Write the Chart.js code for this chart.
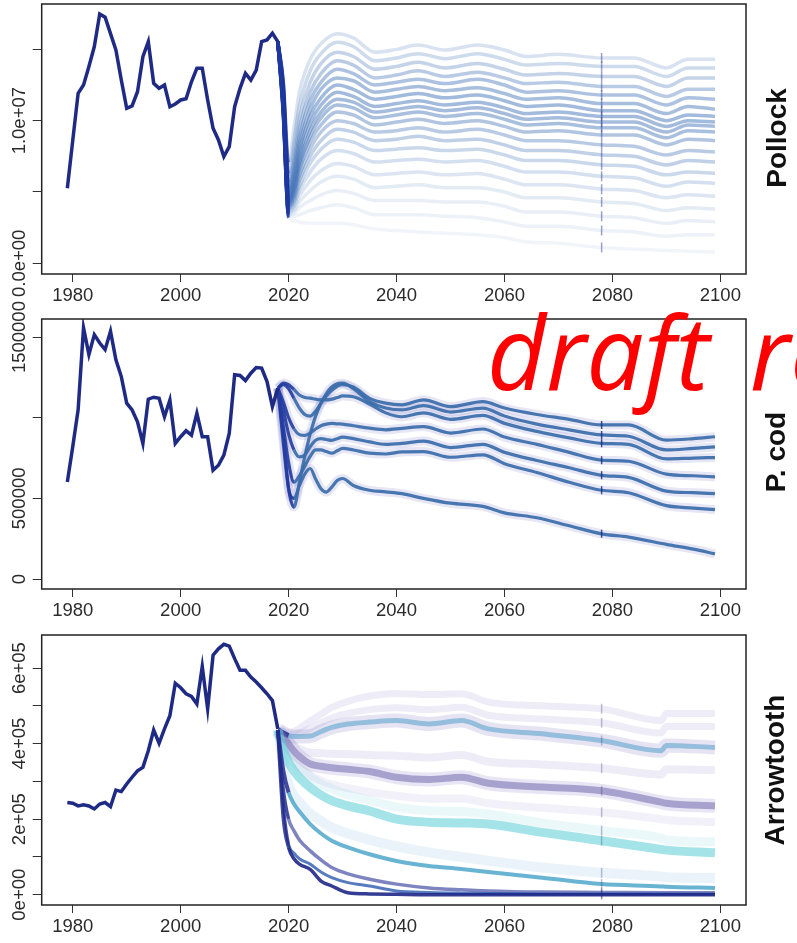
<!DOCTYPE html>
<html>
<head>
<meta charset="utf-8">
<script src="https://cdn.jsdelivr.net/npm/chart.js@4.4.1/dist/chart.umd.min.js"></script>
<style>
  html, body { margin: 0; padding: 0; background: #fff; }
  body { width: 797px; height: 943px; position: relative; overflow: hidden; }
  canvas { position: absolute; left: 0; display: block; }
  .side { position: absolute; font: bold 28px "Liberation Sans", Arial, sans-serif; color: #111;
          transform: translate(-50%, -50%) rotate(-90deg); white-space: nowrap; }
  .stamp { position: absolute; left: 487px; top: 300px; font: italic 102px "Open Sans", sans-serif;
           word-spacing: 14px; color: #ff0000; white-space: nowrap; line-height: 1; }
</style>
</head>
<body>
<canvas id="pollock" width="797" height="340" style="top:-26px"></canvas>
<canvas id="pcod" width="797" height="340" style="top:289px"></canvas>
<canvas id="arrow" width="797" height="340" style="top:605px"></canvas>
<div class="side" style="left:777px; top:138px">Pollock</div>
<div class="side" style="left:776px; top:452px">P. cod</div>
<div class="side" style="left:775px; top:770px">Arrowtooth</div>
<div class="stamp">draft report</div>
<script>
// assessment years
const histYears = [1979, 1980, 1981, 1982, 1983, 1984, 1985, 1986, 1987, 1988,
  1989, 1990, 1991, 1992, 1993, 1994, 1995, 1996, 1997, 1998,
  1999, 2000, 2001, 2002, 2003, 2004, 2005, 2006, 2007, 2008,
  2009, 2010, 2011, 2012, 2013, 2014, 2015, 2016, 2017, 2018];

// pollock biomass, million t
const pollockHist = [5.26, 8.6, 11.92, 12.5, 13.8, 15.2, 17.48, 17.25, 16.1, 14.96,
  12.85, 10.87, 11.03, 12.03, 14.49, 15.54, 12.62, 12.27, 12.5, 10.98,
  11.17, 11.45, 11.54, 12.73, 13.67, 13.67, 11.45, 9.47, 8.65, 7.48,
  8.18, 10.98, 12.27, 13.32, 12.85, 13.55, 15.54, 15.66, 16.13, 15.54];

// P. cod biomass, thousand t
const pcodHist = [601, 820, 1049, 1557, 1391, 1515, 1463, 1422, 1536, 1359,
  1255, 1090, 1048, 975, 841, 1115, 1127, 1121, 1006, 1110,
  841, 882, 919, 892, 1027, 882, 882, 674, 705, 768,
  903, 1266, 1262, 1230, 1276, 1311, 1308, 1224, 1069, 1183];

// arrowtooth biomass, thousand t
const arrowHist = [244, 242, 235, 238, 235, 227, 240, 244, 233, 277,
  273, 293, 311, 328, 337, 381, 436, 401, 439, 474,
  560, 548, 532, 525, 505, 604, 492, 634, 651, 663,
  658, 625, 594, 594, 576, 563, 548, 532, 514, 439];

// projection runs
const pollockKnots = [2018, 2019, 2020, 2021, 2022, 2024, 2026, 2029, 2032, 2036, 2040,
  2044, 2049, 2055, 2060, 2064, 2070, 2078, 2084, 2090, 2094, 2099];
const pollockRuns = [
  [15.54, 12.8, 7.0, 9.5, 12.0, 14.3, 15.4, 16.1, 15.8, 14.8, 15.0, 15.3, 14.95, 15.3, 14.95, 14.5, 14.65, 14.4, 14.4, 13.7, 14.3, 14.3],
  [15.54, 12.6, 6.2, 8.6, 11.0, 13.5, 14.7, 15.5, 15.2, 14.2, 14.4, 14.7, 14.35, 14.7, 14.3, 13.9, 14.0, 13.8, 13.8, 13.1, 13.7, 13.7],
  [15.54, 12.4, 5.6, 7.8, 10.2, 12.7, 14.0, 14.8, 14.5, 13.6, 13.8, 14.1, 13.7, 14.0, 13.6, 13.2, 13.3, 13.1, 13.1, 12.4, 13.0, 13.0],
  [15.54, 12.2, 5.2, 7.2, 9.5, 12.0, 13.3, 14.2, 13.9, 13.0, 13.2, 13.5, 13.1, 13.4, 13.0, 12.6, 12.7, 12.4, 12.4, 11.7, 12.2, 12.2],
  [15.54, 12.0, 4.9, 6.7, 8.9, 11.4, 12.7, 13.6, 13.3, 12.5, 12.7, 12.9, 12.6, 12.9, 12.5, 12.0, 12.1, 11.8, 11.8, 11.1, 11.6, 11.5],
  [15.54, 11.9, 4.7, 6.3, 8.4, 10.8, 12.2, 13.0, 12.8, 12.0, 12.2, 12.4, 12.1, 12.3, 11.9, 11.5, 11.6, 11.2, 11.2, 10.5, 11.0, 10.8],
  [15.54, 11.8, 4.5, 5.9, 7.9, 10.3, 11.6, 12.5, 12.2, 11.5, 11.7, 11.9, 11.6, 11.8, 11.4, 11.0, 11.1, 10.7, 10.7, 10.0, 10.4, 10.3],
  [15.54, 11.7, 4.4, 5.6, 7.5, 9.8, 11.1, 12.0, 11.7, 11.0, 11.2, 11.4, 11.1, 11.3, 10.9, 10.5, 10.6, 10.3, 10.3, 9.6, 10.0, 9.9],
  [15.54, 11.6, 4.3, 5.3, 7.1, 9.3, 10.6, 11.5, 11.3, 10.6, 10.8, 11.0, 10.7, 10.9, 10.5, 10.1, 10.2, 9.9, 9.9, 9.2, 9.7, 9.6],
  [15.54, 11.5, 4.2, 5.1, 6.8, 8.9, 10.2, 11.1, 10.9, 10.2, 10.4, 10.6, 10.3, 10.5, 10.1, 9.7, 9.8, 9.5, 9.5, 8.8, 9.3, 9.2],
  [15.54, 11.4, 4.1, 4.9, 6.5, 8.5, 9.7, 10.6, 10.4, 9.7, 9.9, 10.1, 9.8, 10.0, 9.6, 9.2, 9.3, 9.0, 9.0, 8.3, 8.7, 8.6],
  [15.54, 11.3, 4.0, 4.7, 6.1, 8.0, 9.2, 10.0, 9.8, 9.2, 9.3, 9.5, 9.2, 9.4, 9.0, 8.6, 8.6, 8.3, 8.2, 7.6, 7.9, 7.8],
  [15.54, 11.2, 3.9, 4.5, 5.8, 7.5, 8.6, 9.4, 9.2, 8.6, 8.7, 8.9, 8.6, 8.7, 8.3, 7.9, 7.9, 7.6, 7.5, 6.9, 7.2, 7.1],
  [15.54, 11.1, 3.8, 4.3, 5.4, 7.0, 8.0, 8.7, 8.5, 7.9, 8.0, 8.1, 7.9, 8.0, 7.6, 7.2, 7.2, 6.9, 6.8, 6.2, 6.4, 6.3],
  [15.54, 11.0, 3.7, 4.1, 5.1, 6.4, 7.3, 7.9, 7.7, 7.1, 7.2, 7.3, 7.1, 7.2, 6.8, 6.4, 6.4, 6.1, 6.0, 5.4, 5.7, 5.6],
  [15.54, 10.9, 3.6, 3.9, 4.7, 5.8, 6.5, 7.0, 6.8, 6.2, 6.3, 6.4, 6.2, 6.3, 5.9, 5.5, 5.5, 5.2, 5.1, 4.6, 4.8, 4.7],
  [15.54, 10.8, 3.5, 3.7, 4.3, 5.1, 5.7, 6.1, 5.9, 5.3, 5.4, 5.5, 5.3, 5.3, 5.0, 4.6, 4.6, 4.3, 4.2, 3.7, 3.9, 3.8],
  [15.54, 10.7, 3.4, 3.5, 3.9, 4.4, 4.8, 5.1, 4.9, 4.4, 4.4, 4.4, 4.3, 4.3, 4.0, 3.6, 3.6, 3.3, 3.2, 2.8, 3.0, 2.9],
  [15.54, 10.6, 3.3, 3.3, 3.4, 3.7, 3.9, 4.1, 3.9, 3.4, 3.4, 3.4, 3.3, 3.2, 2.9, 2.6, 2.6, 2.3, 2.2, 1.9, 2.0, 2.0],
  [15.54, 10.5, 3.2, 3.0, 2.9, 2.8, 2.8, 2.8, 2.7, 2.4, 2.3, 2.2, 2.1, 2.0, 1.8, 1.5, 1.4, 1.1, 1.0, 0.9, 0.85, 0.8]
];

const pcodKnots = [2018, 2019, 2020, 2021, 2022, 2023, 2024, 2025, 2026, 2027, 2028, 2029, 2030,
  2032, 2035, 2038, 2041, 2045, 2050, 2056, 2060, 2066, 2072, 2078, 2083, 2090, 2095, 2099];
const pcodRuns = [
  [1183, 1205, 1180, 1120, 1060, 1020, 1010, 1040, 1090, 1135, 1170, 1195, 1205, 1190, 1120, 1090, 1080, 1111, 1069, 1100, 1060, 1020, 990, 955, 955, 861, 870, 882],
  [1183, 900, 560, 446, 600, 760, 900, 1010, 1090, 1150, 1190, 1210, 1214, 1180, 1100, 1060, 1048, 1075, 1035, 1060, 1010, 960, 925, 893, 885, 800, 810, 819],
  [1183, 1214, 1205, 1175, 1141, 1125, 1121, 1115, 1110, 1110, 1115, 1125, 1135, 1130, 1085, 1030, 1006, 1030, 990, 1015, 965, 915, 875, 841, 835, 745, 750, 753],
  [1183, 1100, 1000, 930, 895, 890, 905, 930, 950, 960, 965, 962, 960, 950, 935, 925, 934, 945, 905, 930, 880, 835, 785, 737, 730, 650, 640, 633],
  [1183, 1050, 900, 800, 757, 770, 820, 860, 870, 865, 860, 870, 880, 870, 850, 835, 841, 855, 815, 835, 785, 735, 690, 643, 630, 545, 535, 529],
  [1183, 950, 720, 600, 640, 700, 760, 800, 800, 790, 780, 795, 810, 800, 780, 775, 788, 790, 755, 770, 715, 660, 600, 550, 535, 455, 440, 430],
  [1183, 850, 560, 500, 580, 650, 685, 620, 560, 539, 570, 610, 623, 580, 550, 540, 529, 500, 470, 450, 410, 380, 330, 280, 260, 215, 185, 156]
];

const arrowKnots = [2018, 2019, 2020, 2021, 2022, 2024, 2026, 2028, 2031, 2035, 2040,
  2046, 2052, 2057, 2067, 2078, 2089, 2090, 2099];
const arrowRuns = [
  [436, 432, 430, 432, 440, 460, 478, 496, 512, 526, 533, 530, 532, 510, 500, 492, 461, 480, 480],
  [436, 430, 425, 425, 428, 440, 455, 468, 480, 490, 495, 490, 496, 475, 465, 455, 428, 445, 445],
  [436, 422, 408, 395, 386, 376, 375, 373, 372, 370, 368, 363, 370, 352, 345, 335, 318, 332, 330],
  [436, 410, 385, 360, 340, 316, 302, 292, 282, 272, 262, 254, 255, 242, 230, 218, 200, 198, 192],
  [436, 395, 365, 348, 335, 312, 293, 280, 265, 250, 232, 222, 220, 213, 190, 170, 150, 145, 140],
  [436, 350, 290, 262, 245, 215, 195, 178, 162, 145, 128, 112, 100, 90, 72, 58, 48, 46, 44],
  [436, 428, 421, 419, 419, 420, 432, 443, 452, 457, 461, 452, 461, 439, 426, 408, 381, 395, 390],
  [436, 418, 399, 380, 366, 346, 340, 336, 332, 326, 311, 305, 311, 295, 285, 275, 245, 242, 235],
  [436, 385, 350, 328, 310, 284, 264, 249, 235, 222, 200, 192, 190, 187, 165, 143, 120, 118, 111],
  [436, 330, 270, 240, 220, 187, 162, 143, 125, 107, 89, 76, 68, 60, 45, 28, 22, 21, 18],
  [436, 280, 200, 169, 145, 116, 92, 72, 55, 41, 28, 18, 13, 10, 7, 6, 5, 5, 5],
  [436, 240, 134, 110, 95, 81, 60, 45, 32, 23, 10, 6, 4, 3, 2, 2, 2, 2, 2],
  [436, 204, 125, 95, 81, 67, 36, 23, 5, 2, 1, 0, 0, 0, 0, 0, 0, 0, 0]
];

// axes
const xTicks = [1980, 2000, 2020, 2040, 2060, 2080, 2100];
const pollockTicks = [0, 5, 10, 15];
const pollockTickLabels = ['0.0e+00', '', '1.0e+07', ''];
const pcodTicks = [0, 500, 1000, 1500];
const pcodTickLabels = ['0', '500000', '', '1500000'];
const arrowTicks = [0, 100, 200, 300, 400, 500, 600];
const arrowTickLabels = ['0e+00', '', '2e+05', '', '4e+05', '', '6e+05'];
const markYear = 2078;

// line looks
const font = '"Liberation Sans", Arial, Helvetica, sans-serif';
const navy = '#1f2a84';
const pollockAlpha = [0.2, 0.25, 0.3, 0.36, 0.42, 0.45, 0.48, 0.48, 0.46, 0.44,
  0.4, 0.36, 0.32, 0.27, 0.22, 0.18, 0.14, 0.11, 0.09, 0.07];
// [colour, width, halo colour, halo width, dark start]
const arrowLook = [
  ['rgba(150,140,205,0.16)', 7],
  ['rgba(150,140,205,0.16)', 7],
  ['rgba(150,140,205,0.16)', 8],
  ['rgba(160,150,210,0.14)', 8],
  ['rgba(130,210,225,0.16)', 9],
  ['rgba(160,200,230,0.22)', 10],
  ['rgba(95,165,205,0.6)', 5, 'rgba(140,130,200,0.22)', 14, true],
  ['rgba(115,105,175,0.55)', 7, 'rgba(140,130,200,0.2)', 14],
  ['rgba(90,205,215,0.55)', 9],
  ['rgba(55,155,195,0.75)', 4, null, 0, true],
  ['rgba(70,80,165,0.7)', 3.5, null, 0, true],
  ['rgba(45,90,175,0.8)', 3, null, 0, true],
  ['rgba(30,40,135,0.9)', 3.5, null, 0, true]
];

function pts(xs, ys) {
  return ys.map((v, j) => ({ x: xs[j], y: v }));
}

function history(ys) {
  return { data: pts(histYears, ys), borderColor: navy, borderWidth: 3.5, pointRadius: 0, tension: 0 };
}

function run(knots, ys, color, width, early, markColor, markSize) {
  const ds = {
    data: pts(knots, ys),
    borderColor: color,
    borderWidth: width,
    cubicInterpolationMode: 'monotone',
    pointStyle: 'line',
    rotation: 90,
    pointBorderColor: markColor || 'rgba(0,0,0,0)',
    pointBorderWidth: 1.5,
    pointRadius: c => (markColor && c.raw && c.raw.x === markYear) ? markSize : 0
  };
  if (early) ds.segment = { borderColor: c => c.p0.parsed.x < early[0] ? early[1] : undefined };
  return ds;
}

// box around the plot region plus rotated y labels
const frame = {
  id: 'frame',
  afterDraw(chart, args, opts) {
    const { ctx, chartArea: a, scales: { y } } = chart;
    ctx.save();
    ctx.strokeStyle = '#222';
    ctx.lineWidth = 1.5;
    ctx.strokeRect(a.left, a.top, a.right - a.left, a.bottom - a.top);
    ctx.font = '18.5px ' + font;
    ctx.fillStyle = '#2b2b2b';
    ctx.textAlign = 'center';
    ctx.textBaseline = 'middle';
    opts.ticks.forEach((v, i) => {
      if (!opts.labels[i]) return;
      ctx.save();
      ctx.translate(a.left - 22, y.getPixelForValue(v));
      ctx.rotate(-Math.PI / 2);
      ctx.fillText(opts.labels[i], 0, 0);
      ctx.restore();
    });
    ctx.restore();
  }
};

function panel(id, yMin, yMax, ticks, labels, datasets) {
  new Chart(document.getElementById(id), {
    type: 'line',
    data: { datasets: datasets.reverse() },
    options: {
      responsive: false,
      animation: false,
      events: [],
      layout: { padding: { top: 30, right: 51, bottom: 10, left: 0 } },
      plugins: { legend: { display: false }, tooltip: { enabled: false }, frame: { ticks, labels } },
      scales: {
        x: {
          type: 'linear', min: 1974.25, max: 2104.75,
          afterBuildTicks: s => { s.ticks = xTicks.map(v => ({ value: v })); },
          afterFit: s => { s.height = 30; },
          grid: { drawOnChartArea: false, tickLength: 8, color: '#333', lineWidth: 1 },
          border: { display: false },
          ticks: { font: { family: font, size: 18.5 }, color: '#2b2b2b', padding: 3,
                   maxRotation: 0, autoSkip: false, callback: v => String(v) }
        },
        y: {
          type: 'linear', min: yMin, max: yMax,
          afterBuildTicks: s => { s.ticks = ticks.map(v => ({ value: v })); },
          afterFit: s => { s.width = 41.7; },
          grid: { drawOnChartArea: false, tickLength: 9, color: '#333', lineWidth: 1 },
          border: { display: false },
          ticks: { autoSkip: false, callback: () => '' }
        }
      }
    },
    plugins: [frame]
  });
}

// Pollock: a fan of faint runs
const pollockSets = pollockRuns.map((r, i) =>
  run(pollockKnots, r, `rgba(60,110,180,${pollockAlpha[i]})`, 3.5,
      [2020, 'rgba(30,55,160,0.7)'], 'rgba(30,50,140,0.45)', 5));
pollockSets.push(history(pollockHist));
panel('pollock', -0.75, 18.18, pollockTicks, pollockTickLabels, pollockSets);

// P. cod: seven scenarios with a soft halo
const pcodSets = [];
pcodRuns.forEach(r => {
  pcodSets.push(run(pcodKnots, r, 'rgba(140,140,210,0.22)', 9));
});
pcodRuns.forEach(r => {
  pcodSets.push(run(pcodKnots, r, 'rgba(58,108,170,0.92)', 3.2,
      [2021, 'rgba(35,60,160,0.9)'], 'rgba(20,40,120,0.8)', 4));
});
pcodSets.push(history(pcodHist));
panel('pcod', -62, 1612, pcodTicks, pcodTickLabels, pcodSets);

// Arrowtooth: coloured scenario bands
const arrowSets = [];
arrowRuns.forEach((r, i) => {
  const look = arrowLook[i];
  if (look[2]) arrowSets.push(run(arrowKnots, r, look[2], look[3]));
});
arrowRuns.forEach((r, i) => {
  const look = arrowLook[i];
  arrowSets.push(run(arrowKnots, r, look[0], look[1],
      look[4] ? [2020, 'rgba(35,45,140,0.85)'] : null, 'rgba(40,50,120,0.3)', 5));
});
arrowSets.push(history(arrowHist));
panel('arrow', -27.3, 687.6, arrowTicks, arrowTickLabels, arrowSets);
</script>
</body>
</html>
